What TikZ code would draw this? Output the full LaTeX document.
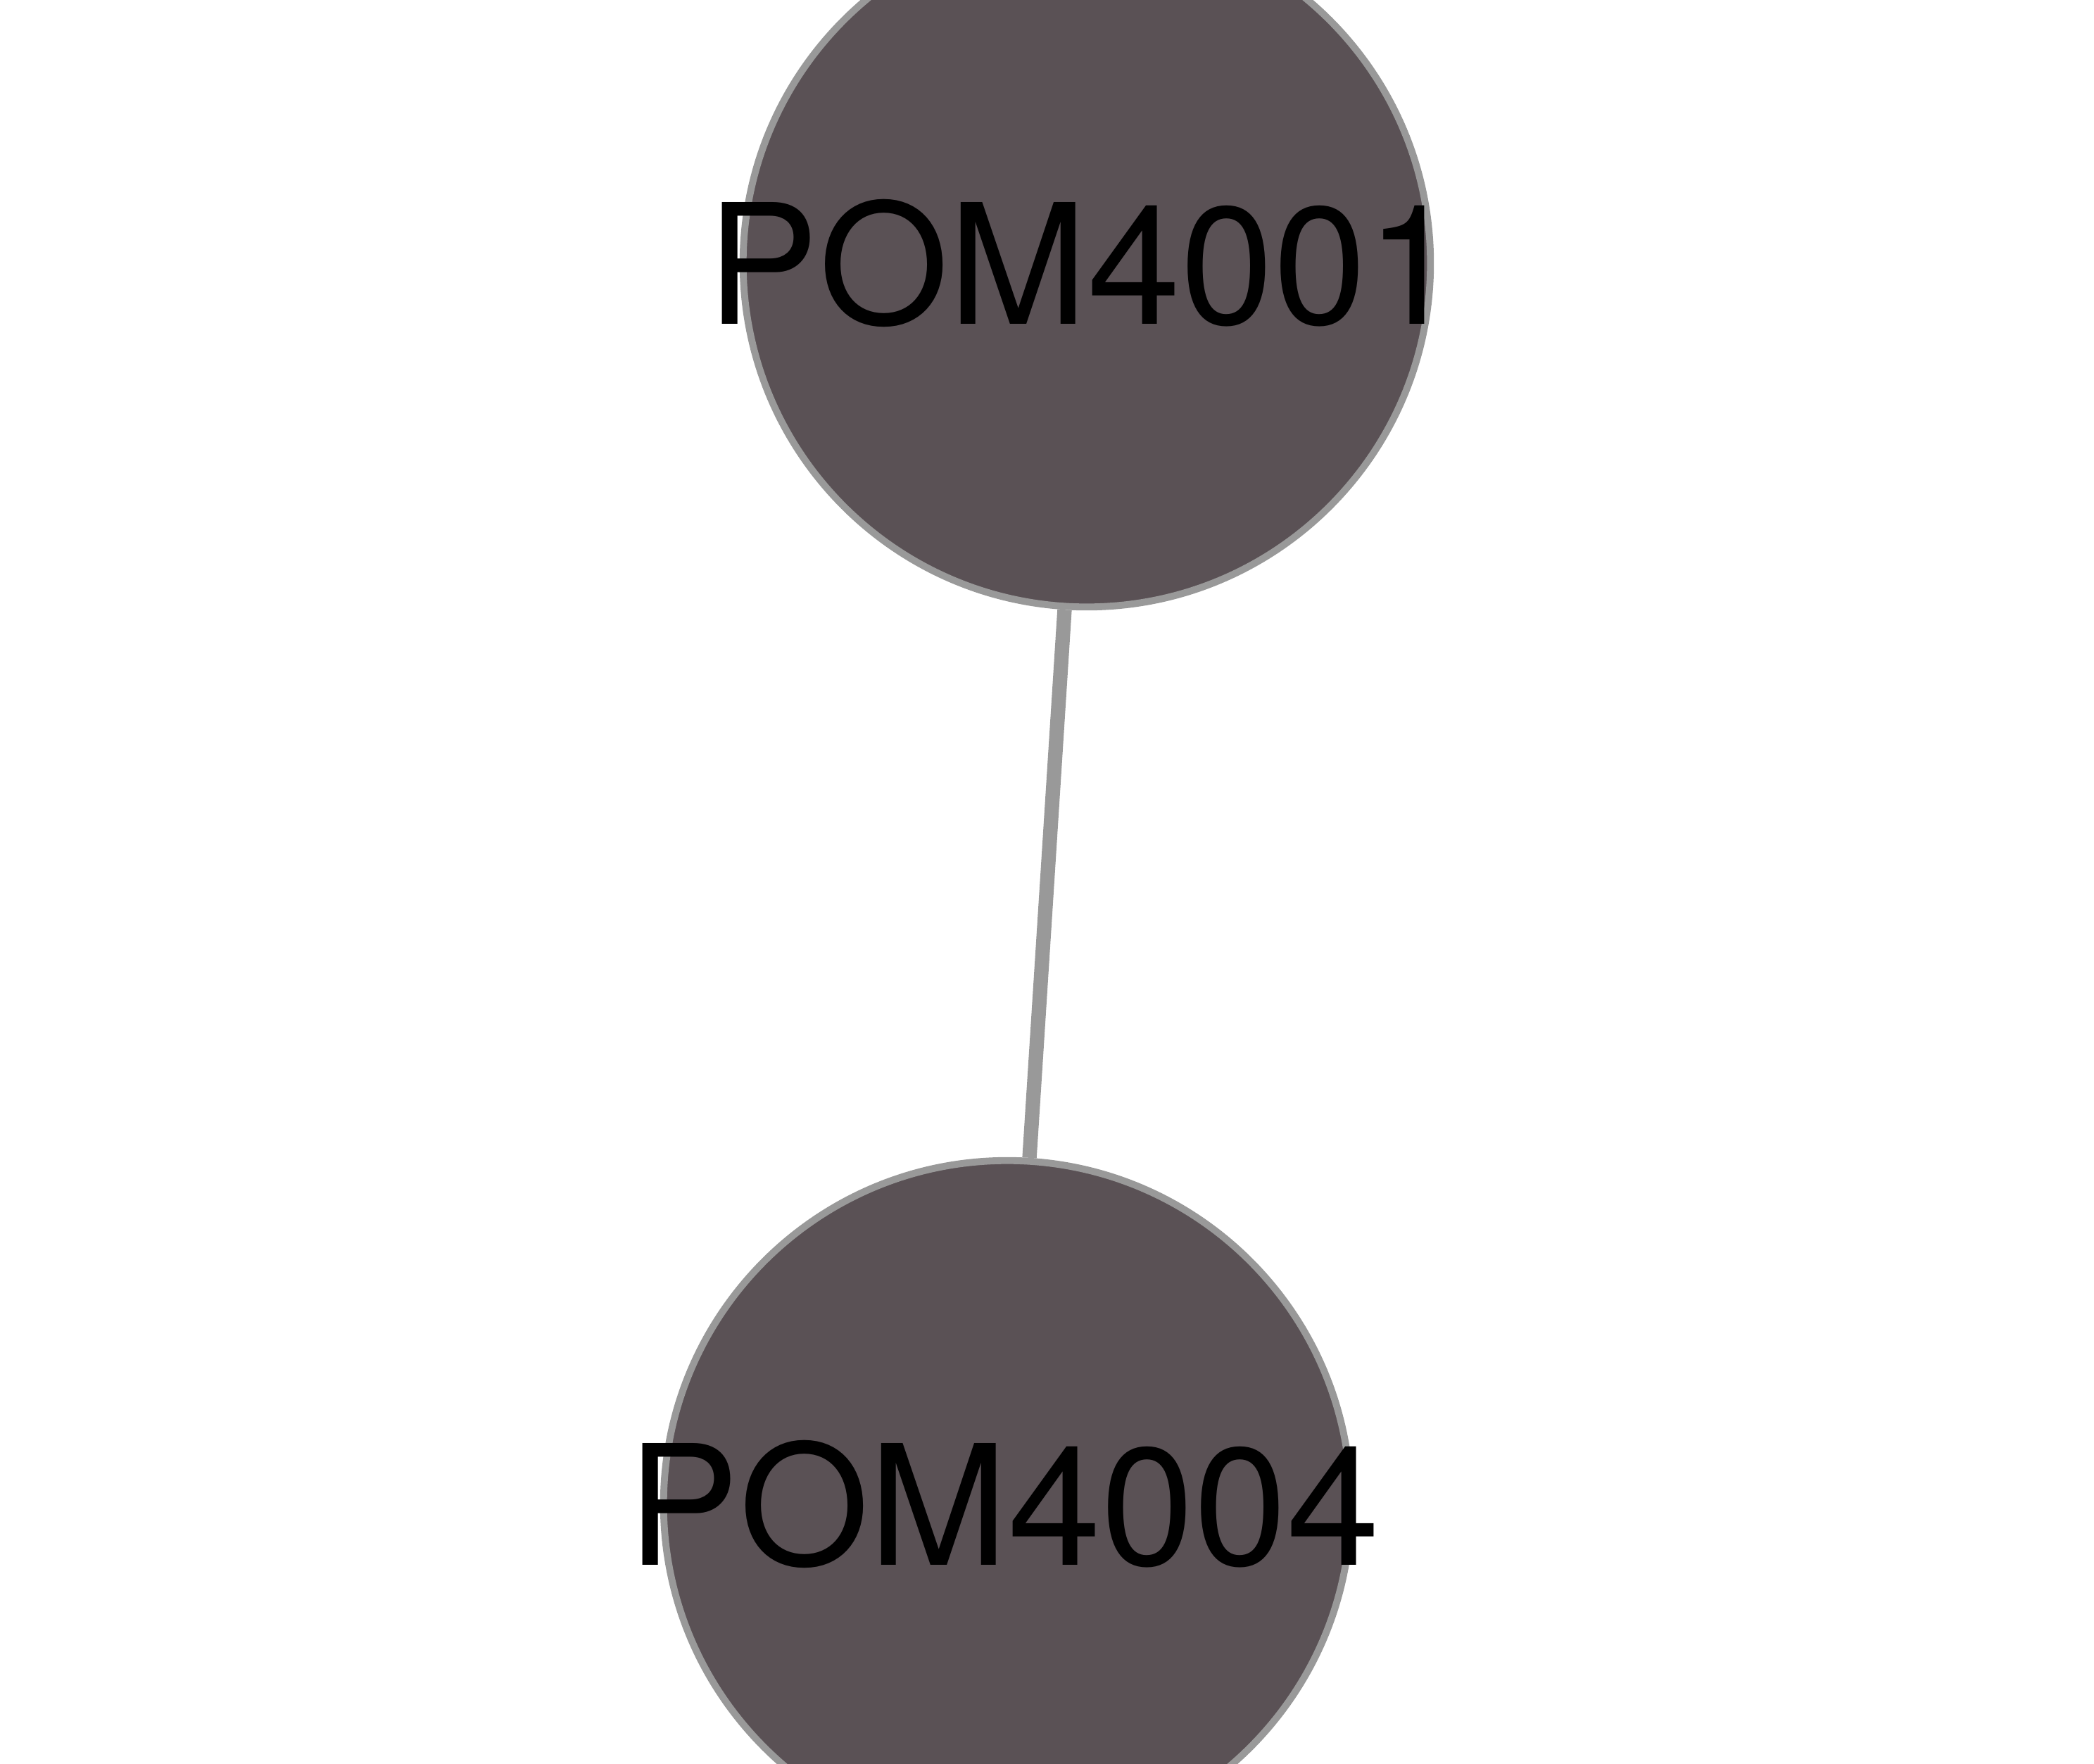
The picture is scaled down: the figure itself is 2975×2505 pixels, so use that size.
\documentclass[tikz,border=0pt]{standalone}
\usepackage{fontspec}
\setmainfont{TeX Gyre Heros}
\definecolor{nodefill}{HTML}{5A5155}
\definecolor{edgegray}{HTML}{999999}
\begin{document}
\begin{tikzpicture}[x=0.01cm,y=-0.01cm,
  gene/.style={circle, draw=edgegray, fill=nodefill, line width=2.8pt,
    minimum size=9.76cm, inner sep=0pt},
  genelabel/.style={font=\fontsize{67.5pt}{72pt}\selectfont, text=black, inner sep=0pt},
  link/.style={draw=edgegray, line width=5.8pt}]
\useasboundingbox (0,0) rectangle (2975,2505);
\clip (0,0) rectangle (2975,2505);
\fill[white] (0,0) rectangle (2975,2505);
\node[gene, label={[genelabel, xshift=-0.05cm]center:POM4001}] (a) at (1544,374) {};
\node[gene, label={[genelabel, xshift=-0.05cm]center:POM4004}] (b) at (1431,2137) {};
\draw[link] (a) -- (b);
\end{tikzpicture}
\end{document}
